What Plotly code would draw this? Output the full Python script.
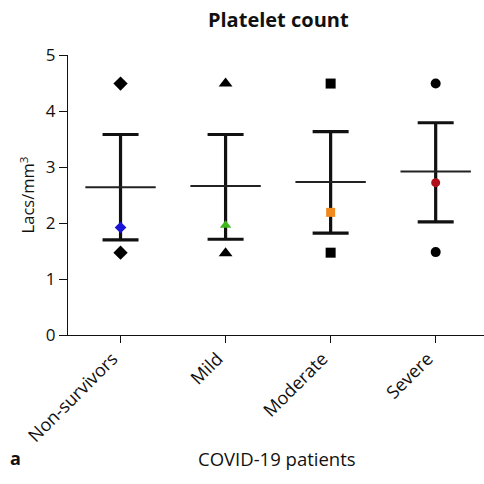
import plotly.graph_objects as go

categories = ["Non-survivors", "Mild", "Moderate", "Severe"]
means = [2.64, 2.66, 2.73, 2.92]
upper = [3.58, 3.58, 3.63, 3.79]
lower = [1.70, 1.71, 1.82, 2.02]
medians = [1.92, 1.96, 2.19, 2.72]
maxima = [4.49, 4.49, 4.49, 4.49]
minima = [1.47, 1.46, 1.47, 1.48]
symbols = ["diamond", "triangle-up", "square", "circle"]
colors = ["#1a14d6", "#3fb81c", "#f08a1e", "#b0101a"]
black_sizes = [11, 12, 10, 10]
color_sizes = [9, 10, 9, 9]
xpos = list(range(len(categories)))

FONT = "Open Sans"
fig = go.Figure()

# mean line + mean ± SD whiskers
fig.add_trace(go.Scatter(
    x=xpos, y=means, mode="markers",
    marker=dict(size=1, color="rgba(0,0,0,0)"),
    error_x=dict(type="constant", value=0.335, width=0, thickness=2, color="#222"),
    error_y=dict(type="data", symmetric=False,
                 array=[u - m for u, m in zip(upper, means)],
                 arrayminus=[m - l for m, l in zip(means, lower)],
                 width=18, thickness=3.2, color="#111"),
    showlegend=False, hoverinfo="skip"))

# max / min markers and coloured median markers
for i in xpos:
    fig.add_trace(go.Scatter(
        x=[i, i], y=[maxima[i], minima[i]], mode="markers",
        marker=dict(symbol=symbols[i], size=black_sizes[i], color="#000"),
        showlegend=False))
    fig.add_trace(go.Scatter(
        x=[i], y=[medians[i]], mode="markers",
        marker=dict(symbol=symbols[i], size=color_sizes[i], color=colors[i]),
        showlegend=False))

fig.update_layout(
    width=484, height=484,
    margin=dict(l=68, r=0, t=55, b=149),
    paper_bgcolor="white", plot_bgcolor="white",
    font=dict(family=FONT, size=17, color="#111"),
    title=dict(text="<b>Platelet count</b>", x=0.575, xanchor="center",
               y=0.958, yanchor="middle", font=dict(size=20, family=FONT)),
    xaxis=dict(range=[-0.5, 3.46], tickvals=xpos, ticktext=categories,
               tickangle=-45, showgrid=False, zeroline=False,
               showline=True, linecolor="#111", linewidth=1.3,
               ticks="outside", ticklen=7, tickcolor="#111",
               ticklabelshift=-8, ticklabelstandoff=-2,
               tickfont=dict(size=18, family=FONT)),
    yaxis=dict(range=[0, 5], tickvals=[0, 1, 2, 3, 4, 5], showgrid=False,
               zeroline=False, showline=True, linecolor="#111", linewidth=1.3,
               ticks="outside", ticklen=8, tickcolor="#111",
               tickfont=dict(size=17, family=FONT),
               title=dict(text="Lacs/mm<sup>3</sup>", font=dict(size=16.5, family=FONT),
                          standoff=6)),
)
fig.add_annotation(text="<b>a</b>", x=-60/416, y=-(458-335)/280,
                   xref="paper", yref="paper", xanchor="left", yanchor="middle",
                   showarrow=False, font=dict(size=18, family=FONT, color="#111"))
fig.add_annotation(text="COVID-19 patients", x=(277-68)/416, y=-(458-335)/280,
                   xref="paper", yref="paper", xanchor="center", yanchor="middle",
                   showarrow=False, font=dict(size=18.5, family=FONT, color="#111"))

fig.write_html("out.html")
